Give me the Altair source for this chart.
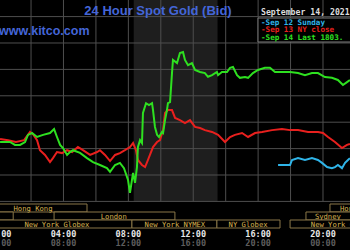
import altair as alt
import pandas as pd

# ---------------- data (hours after 00:00 NY time, price USD) ----------------
green_h = [0.09, 0.70, 1.01, 1.32, 1.63, 1.81, 2.06, 2.37, 2.74, 3.17, 3.42, 3.60, 3.79, 3.97,
           4.22, 4.40, 4.59, 5.02, 5.45, 5.82, 6.25, 6.68, 6.87, 7.18, 7.48, 7.73, 7.98, 8.10,
           8.22, 8.29, 8.41, 8.53, 8.59, 8.72, 8.84, 8.90, 9.09, 9.27, 9.46, 9.52, 9.64, 9.77,
           9.89, 10.07, 10.14, 10.26, 10.38, 10.44, 10.57, 10.69, 10.75, 11.00, 11.18, 11.37,
           11.49, 11.68, 11.92, 12.11, 12.42, 12.72, 12.91, 13.16, 13.46, 13.53, 13.77, 14.08,
           14.27, 14.45, 14.70, 14.88, 15.19, 15.38, 15.68, 15.99, 16.42, 16.73, 17.04, 17.47,
           17.97, 18.46, 18.89, 19.32, 19.69, 20.12, 20.55, 20.92, 21.23, 21.48, 21.66]
green_p = [1791.25, 1791.25, 1790.7, 1790.7, 1791.25, 1792.6, 1792.95, 1792.2, 1792.6, 1792.95,
           1793.7, 1792.2, 1790.7, 1790.1, 1788.8, 1789.35, 1789.7, 1789.2, 1788.2, 1787.45,
           1786.9, 1786.3, 1785.6, 1786.9, 1787.3, 1786.3, 1784.05, 1781.6, 1784.05, 1785.4,
           1783.5, 1786.5, 1790.3, 1791.6, 1791.05, 1796.75, 1798.6, 1798.25, 1798.6, 1797.3,
           1794.1, 1792.6, 1792.2, 1793.15, 1792.95, 1795.4, 1797.3, 1798.6, 1798.8, 1804.3,
           1806.8, 1806.2, 1808.1, 1808.3, 1806.8, 1805.8, 1806.2, 1804.9, 1804.5, 1804.3,
           1803.6, 1803.9, 1804.5, 1803.9, 1804.5, 1804.5, 1805.3, 1805.45, 1803.9, 1803.4,
           1803.55, 1803.4, 1804.3, 1804.9, 1805.3, 1805.3, 1804.5, 1804.5, 1804.5, 1804.3,
           1803.9, 1804.3, 1804.3, 1803.55, 1803.4, 1803.0, 1802.05, 1802.6, 1803.0]

red_h = [0.09, 0.58, 1.07, 1.57, 1.94, 2.12, 2.37, 2.55, 2.86, 3.17, 3.35, 3.60, 3.91, 4.22,
         4.53, 4.89, 5.20, 5.64, 6.07, 6.25, 6.56, 6.87, 7.18, 7.48, 7.79, 8.10, 8.29, 8.47,
         8.59, 8.84, 9.03, 9.21, 9.52, 9.77, 9.95, 10.14, 10.26, 10.44, 10.69, 10.88, 11.18,
         11.49, 11.80, 12.11, 12.42, 12.72, 13.16, 13.53, 13.96, 14.27, 14.57, 15.01, 15.38,
         15.81, 16.24, 16.86, 17.47, 17.97, 18.46, 19.08, 19.69, 20.00, 20.31, 20.74, 21.17,
         21.48, 21.66]
red_p = [1791.8, 1791.6, 1791.25, 1791.6, 1793.15, 1792.75, 1791.6, 1789.7, 1788.8, 1787.45,
         1788.2, 1789.35, 1789.15, 1789.7, 1789.35, 1790.3, 1789.7, 1788.8, 1789.35, 1789.7,
         1788.8, 1787.65, 1788.8, 1789.15, 1789.7, 1790.3, 1791.05, 1789.7, 1787.85, 1786.9,
         1786.5, 1787.85, 1790.3, 1791.25, 1791.6, 1793.5, 1796.75, 1797.3, 1797.3, 1795.8,
         1795.4, 1794.85, 1795.4, 1794.1, 1793.9, 1793.5, 1793.15, 1792.6, 1791.25, 1792.2,
         1792.6, 1792.95, 1792.2, 1792.95, 1793.15, 1793.5, 1793.7, 1793.5, 1793.5, 1793.15,
         1793.15, 1792.95, 1792.2, 1791.25, 1790.1, 1790.7, 1790.9]

cyan_h = [17.23, 17.97, 18.09, 18.46, 18.89, 19.32, 19.69, 19.94, 20.25, 20.55, 20.74, 20.92,
          21.17, 21.36, 21.54, 21.66]
cyan_p = [1786.9, 1786.9, 1787.85, 1788.2, 1787.85, 1788.2, 1787.85, 1787.3, 1786.5, 1786.3,
          1786.5, 1786.9, 1786.3, 1787.3, 1787.85, 1788.2]

series_names = ["Sep 12 Sunday", "Sep 13 NY close", "Sep 14 Last 1803."]
series_colors = ["#2fb4e8", "#e8201e", "#2ee020"]

grid_hours = [2, 4, 6, 8, 10, 12, 14, 16, 18, 20]
grid_prices = [1780, 1785, 1790, 1795, 1800, 1805, 1810, 1815]

tick_hours = [0, 4, 8, 12, 16, 20]
tick_local = ["00:00", "04:00", "08:00", "12:00", "16:00", "20:00"]
tick_gmt = ["04:00", "08:00", "12:00", "16:00", "20:00", "00:00"]

nyse_start, nyse_end = 8.33, 13.5

sess_names = ["Hong Kong", "Hong Kong", "", "London", "Sydney",
              "New York Globex", "New York NYMEX", "NY Globex", "New York Globex"]
sess_start = [-4, 20.43, -4, 3.42, 18.95, -4, 8.22, 13.46, 17.97]
sess_end = [5.45, 26, 0.9, 10.87, 26, 8.22, 13.46, 17.35, 26]
sess_label = [2.12, 22.25, 0, 7.1, 20.3, 3.6, 10.87, 15.38, 21.25]
sess_row = [0, 0, 1, 1, 1, 2, 2, 2, 2]

# ---------------- scales ----------------
X_DOM = [0.086, 21.665]
Y_DOM = [1770.8, 1818.14]
xs = alt.Scale(domain=X_DOM, nice=False, zero=False)
ys = alt.Scale(domain=Y_DOM, nice=False, zero=False)
MONO = "DejaVu Sans Mono"

lines_df = pd.concat([
    pd.DataFrame({"h": cyan_h, "p": cyan_p, "s": series_names[0]}),
    pd.DataFrame({"h": red_h, "p": red_p, "s": series_names[1]}),
    pd.DataFrame({"h": green_h, "p": green_p, "s": series_names[2]}),
])

shade = alt.Chart(pd.DataFrame({"a": [nyse_start], "b": [nyse_end]})).mark_rect(
    color="#1e1e1e").encode(
    x=alt.X("a:Q", scale=xs, axis=None), x2="b:Q",
    y=alt.YDatum(Y_DOM[1], type="quantitative", scale=ys, axis=None),
    y2=alt.Y2Datum(1780))

hgrid = alt.Chart(pd.DataFrame({"p": grid_prices})).mark_rule(
    color="#4e4e4e", strokeWidth=1).encode(
    y=alt.Y("p:Q", scale=ys, axis=None), x=alt.value(0), x2=alt.value(350))

vgrid = alt.Chart(pd.DataFrame({"h": grid_hours})).mark_rule(
    color="#4e4e4e", strokeWidth=1).encode(
    x=alt.X("h:Q", scale=xs, axis=None),
    y=alt.YDatum(Y_DOM[1], type="quantitative", scale=ys, axis=None),
    y2=alt.Y2Datum(1780))

lines = alt.Chart(lines_df).mark_line(strokeWidth=2).encode(
    x=alt.X("h:Q", scale=xs, axis=None),
    y=alt.Y("p:Q", scale=ys, axis=None),
    color=alt.Color("s:N", scale=alt.Scale(domain=series_names, range=series_colors), legend=None),
    detail="s:N")

sess_df = pd.DataFrame({"name": sess_names, "a": sess_start, "b": sess_end,
                        "lab": sess_label, "row": sess_row})
row_tops = [204, 212, 220]
sess_layers = []
for r, top in enumerate(row_tops):
    sub = alt.Chart(sess_df).transform_filter(alt.datum.row == r)
    sess_layers.append(sub.mark_rect(fill="#000000", stroke="#8a7748", strokeWidth=1,
                                     clip=True).encode(
        x=alt.X("a:Q", scale=xs, axis=None), x2="b:Q",
        y=alt.value(top), y2=alt.value(top + 8)))
    sess_layers.append(sub.mark_text(font=MONO, fontSize=7.2, color="#d8b450",
                                     baseline="middle", clip=True).encode(
        x=alt.X("lab:Q", scale=xs, axis=None), y=alt.value(top + 4.5), text="name:N"))

tick_df = pd.DataFrame({"h": tick_hours, "l": tick_local, "g": tick_gmt})
ticks1 = alt.Chart(tick_df).mark_text(font=MONO, fontSize=8.5, fontWeight="bold",
                                      color="#e8e8e8", baseline="middle").encode(
    x=alt.X("h:Q", scale=xs, axis=None), y=alt.value(234), text="l:N")
ticks2 = alt.Chart(tick_df).mark_text(font=MONO, fontSize=8.5, fontWeight="bold",
                                      color="#5e5e5e", baseline="middle").encode(
    x=alt.X("h:Q", scale=xs, axis=None), y=alt.value(243), text="g:N")

one = pd.DataFrame({"k": [0]})
title = alt.Chart(one).mark_text(text="24 Hour Spot Gold (Bid)", font="Liberation Sans",
                                 fontSize=13, fontWeight="bold", color="#4466d8",
                                 align="center", baseline="middle").encode(
    x=alt.value(158), y=alt.value(11))
site = alt.Chart(one).mark_text(text="www.kitco.com", font="Liberation Sans",
                                fontSize=12.5, fontWeight="bold", color="#4466d8",
                                align="left", baseline="middle").encode(
    x=alt.value(-1), y=alt.value(31))

legend_box = alt.Chart(one).mark_rect(fill="#000000", stroke="#7a7a7a", strokeWidth=1).encode(
    x=alt.value(258), x2=alt.value(360), y=alt.value(18), y2=alt.value(42))
date_txt = alt.Chart(one).mark_text(text="September 14, 2021", font=MONO, fontSize=8.2,
                                    fontWeight="bold", color="#dcdcdc", align="left",
                                    baseline="middle").encode(
    x=alt.value(261), y=alt.value(12.5))
leg_layers = []
for i, (nm, col) in enumerate(zip(series_names, series_colors)):
    leg_layers.append(alt.Chart(one).mark_text(text="-" + nm, font=MONO, fontSize=7.6,
                                               fontWeight="bold", color=col, align="left",
                                               baseline="middle").encode(
        x=alt.value(261), y=alt.value(22.5 + 7.5 * i)))

chart = alt.layer(shade, hgrid, vgrid, lines, *sess_layers, ticks1, ticks2, title, site,
                  legend_box, date_txt, *leg_layers).properties(
    width=350, height=250, background="#000000", padding=0,
    autosize=alt.AutoSizeParams(type="none")
).configure_view(stroke=None)

chart.save("out.html", embed_options={"renderer": "svg", "actions": False})
